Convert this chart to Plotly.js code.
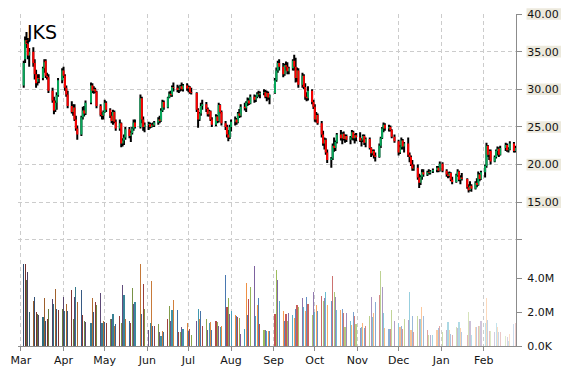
<!DOCTYPE html>
<html><head><meta charset="utf-8">
<script src="https://cdn.plot.ly/plotly-3.0.1.min.js"></script>
<style>html,body{margin:0;padding:0;background:#fff}#chart{width:570px;height:370px}</style>
</head><body><div id="chart"></div>
<script>
const ticker = 'JKS';
const firstDay = '2014-03-03';
const lastDay = '2015-02-24';
const holidays = ['2014-04-18','2014-05-26','2014-07-04','2014-09-01','2014-11-27','2014-12-25','2015-01-01','2015-01-19','2015-02-16'];

const open = [
30.5,34,36.5,36,34.5,35,33.5,32,31,31.5,31.5,32.8,33.8,31.8,31.6,29.8,28.5,27.3,28.2,29.2,31.2,
32.5,31.8,30.2,29.3,27.8,27,27.6,26,24.8,24,26.3,27.2,26.8,28.2,30.5,29.8,30,29.7,27.8,26.6,26.5,
27,28.2,27.3,26.5,25.8,27,25.7,24.8,25.5,22.8,23.2,23.6,24.7,23.8,24.2,24.8,25.6,25,28.8,26,25,
25.3,25.4,25,25.3,25.2,25.6,26,25.8,27.2,28.3,27.6,28.9,29.4,29.2,30.3,30.2,29.9,30.1,30.4,30,30.5,
30.1,30.3,29.6,29.5,27.3,26,26.8,27.8,28,27.4,26.7,27.1,26,25.3,26.4,25.8,27.9,27,25.5,25,24,23.6,
25,25.7,26,25.6,26.8,26.5,27.7,27.5,28.2,28.5,28.1,29,28.6,29,29.4,29.3,29.5,29.6,29,29.5,28.9,
29.5,31.2,32.5,33.5,33,32,33.2,33,32.4,32.8,33.8,33,31.5,32.5,30.6,31.8,30.3,29,28.8,29.8,28.3,
27.7,26,26.6,25.5,24,22.8,23.3,21.6,20.6,20.8,22.5,22.2,23,24,23.5,24.1,23.4,23.8,23.3,23.6,24.3,23.5,23.9,
23.6,23.2,23.3,23.8,22.9,23.4,22.2,21.5,21.8,21.2,21,22.5,23.5,24.8,25.3,24.8,25,24.6,23.7,
23.1,21.6,22.3,23.2,22.4,22.8,21.3,21,20,19.5,19.6,18.3,17.6,18.4,19,18.7,19,18.9,19.1,19.3,19.6,19.2,
20.1,19.2,18.7,18.5,18.9,18,17.7,18.6,19.1,18,18.3,18.1,17,16.6,17.2,16.8,17.6,17.3,18.7,18.1,
19,19.8,22.5,21.3,21.8,20.4,21,21.8,22.1,21.3,22.2,22.6,21.9,22,22.8,21.8
];
const high = [
33.8,37,37.6,36.8,35.5,35.6,34,32.6,32,32,33,34,34,32.2,32,30.2,29,28.5,29.6,31.5,32.8,
33,32,30.5,29.8,28.4,28,28,26.5,25.2,26.5,27.7,27.8,28.5,30.9,30.8,30.4,30.2,29.8,28,27,27.2,
28.6,28.4,27.5,27,27.3,27.2,26,26,25.6,23.5,24,25,25,24.5,25,26,26,29.3,29,26.4,25.6,
25.7,25.6,25.5,25.6,25.8,26.3,26.5,27.5,28.6,28.5,29,29.7,29.8,30.5,30.9,30.6,30.4,30.6,30.9,30.7,30.8,
30.5,30.4,30.2,29.6,27.5,27,28.2,28.6,28.3,27.6,27.3,27.2,26.3,26.7,26.6,28.2,28,27.2,25.8,25.3,24.6,25.3,
26,26.4,26.2,27,27.4,28,28.2,28.4,28.9,28.8,29.3,29.3,29.2,29.6,29.8,29.7,30,29.9,29.8,29.7,29.3,
31.5,32.9,33.8,34,33.5,33.4,33.7,33.6,33,34,34.6,34.2,32.9,32.8,32.2,32,30.8,29.6,30.4,30,28.6,
28,27,26.8,25.8,24.5,23.6,23.5,22,21,22.8,23.6,23.2,24.2,24.6,24.3,24.4,24,24,23.8,24.6,24.5,24.1,24.2,
24.3,23.5,24,24,23.6,23.6,22.3,22,22,21.6,22.8,23.7,25,25.6,25.5,25.3,25.2,24.7,24,
23.3,22.6,23.6,23.4,23,23.6,21.6,21.2,20.6,20,20,18.8,18.6,19.4,19.4,19.2,19.4,19.3,19.5,19.8,19.8,20.4,
20.3,19.4,19,19.1,19,18.4,18.8,19.4,19.2,18.6,18.9,18.2,17.4,17.8,17.4,17.8,18.2,19.1,18.9,19.2,
20,22.9,22.6,22,22,21.2,22,22.4,22.3,22.5,22.9,22.8,22.3,23.1,23,22.5
];
const low = [
30.2,33.5,35.5,34,33,33,31.3,30.2,30.5,30.8,31.2,32.2,31.5,31.3,29.5,28.2,26.7,27,27.3,29,30.8,
31.5,29.8,29,27.5,26.8,26.5,25.8,24.5,23.3,23.8,26,26.4,26.6,28,29.5,29.4,29.5,27.5,26.4,26,26,
26.9,27,26.2,25.5,25.3,25.5,24.5,24.5,22.3,22.4,22.6,23.3,23.5,23,24,24.5,24.8,24.8,25.5,24.5,24.3,
24.6,24.8,24.9,25,25,25.3,25.5,25.7,27,27.3,27.5,28.8,29,29,29.7,29.6,29.5,29.7,29.8,29.7,29.8,
29.6,29.4,29.3,27,24.9,25.8,26.5,27.3,27,26.4,26.4,25.8,25,25.1,25.5,25.6,26.8,25.2,24.6,23.6,23.1,23.4,
24.4,25.2,25.3,25.5,26.2,26.3,27.2,27,27.8,27.9,28,28.2,28.3,28.8,29,28.8,29.2,28.8,28.4,28.6,28,
29.4,31,32.2,32.5,31.6,31.8,32.5,32,32,32.5,32.5,30.9,31,30.2,30.2,30,28.6,28.4,28.5,28,27.4,
25.7,25.6,25.3,23.6,22.5,22,21.3,20.2,19.6,20.6,21.7,21.8,22.8,23.2,22.7,23.2,22.9,23,22.7,23.3,23.2,22.8,23.1,
23,22.4,23,22.6,22.3,22,21,21.2,20.8,20.4,20.9,22.2,23.4,24.3,24.5,24.4,24.4,23.5,22.9,
21.2,21.4,22,22,21.6,21,20.3,19.8,19.2,19.2,18,16.9,17.3,18,18.4,18.5,18.7,18.7,18.9,19,19,19.1,
19,18.4,18.2,18.3,17.8,17.4,17.6,18.4,17.8,17.4,17.9,16.8,16.3,16.5,16.4,16.7,17,17.2,17.8,18,
18.3,19.6,21,20.6,20,20.3,20.8,21.2,21,21.2,21.8,21.7,21.6,21.9,21.6,21.6
];
const close = [
33.5,36.5,36,34.5,35,33.5,32,30.8,31.5,31.4,32.8,33.6,31.8,31.6,29.8,28.5,27.2,28.2,29.2,31.2,32.5,
31.8,30.2,29.3,27.8,27,27.6,26,24.8,24,26.3,27.2,26.8,28.2,30.5,29.8,30,29.7,27.8,26.6,26.5,27,
28.2,27.3,26.5,25.8,27,25.7,24.8,25.5,22.8,23.2,23.6,24.7,23.8,24.2,24.8,25.6,25,28.8,26,25,25.3,
25.4,25,25.3,25.2,25.6,26,25.8,27.2,28.3,27.6,28.9,29.4,29.2,30.3,30.2,29.9,30.1,30.4,30,30.5,30.1,
30.3,29.6,29.5,27.3,26,26.8,27.8,28,27.4,26.7,27.1,26,25.3,26.4,25.8,27.9,27,25.5,25,24,23.6,25,
25.7,26,25.6,26.8,26.5,27.7,27.5,28.2,28.5,28.1,29,28.6,29,29.4,29.3,29.5,29.6,29,29.5,28.9,29.2,
31.2,32.5,33.5,33,32,33.2,33,32.4,32.8,33.8,33,31.5,32.5,30.6,31.8,30.3,29,28.8,29.8,28.3,27.7,
26,26.6,25.5,24,22.8,23.3,21.6,20.6,20.8,22.5,22.2,23,24,23.5,24.1,23.4,23.8,23.3,23.6,24.3,23.5,23.9,23.6,
23.2,23.3,23.8,22.9,23.4,22.2,21.5,21.8,21.2,21,22.5,23.5,24.8,25.3,24.8,25,24.6,23.7,23.1,
21.6,22.3,23.2,22.4,22.8,21.3,21,20,19.5,19.6,18.3,17.6,18.4,19,18.7,19,18.9,19.1,19.3,19.6,19.2,20.1,
19.2,18.7,18.5,18.9,18,17.7,18.6,19.1,18,18.3,18.1,17,16.6,17.2,16.8,17.6,17.3,18.7,18.1,19,
19.8,22.5,21.3,21.8,20.4,21,21.8,22.1,21.3,22.2,22.6,21.9,22,22.8,21.8,22.2
];
// volume in millions of shares
const volume = [
4.8,4.8,3.9,4.35,2.0,2.65,2.9,2.0,1.9,1.8,1.7,2.85,1.5,1.6,2.2,2.75,2.5,3.35,2.2,2.1,2.2,
2.9,2.05,2.5,2.05,3.3,1.6,2.9,3.5,2.6,3.3,1.8,1.5,1.4,1.35,2.8,2.0,2.6,2.4,3.1,1.35,1.45,
1.4,1.35,1.6,1.6,1.9,1.2,1.3,1.75,1.35,3.6,3.0,1.6,1.5,1.35,3.4,2.5,2.6,4.8,1.9,3.65,2.2,
0.95,1.35,3.8,1.2,1.2,1.3,0.8,0.6,0.9,0.8,1.6,2.35,1.5,2.1,2.7,2.1,0.8,0.8,1.1,1.0,1.35,
0.9,1.0,0.65,1.5,2.2,1.6,2.05,1.2,
1.6,0.95,1.35,1.4,0.95,1.5,1.4,1.2,1.1,1.2,4.2,2.3,2.8,1.9,2.05,1.8,1.75,1.7,1.65,0.7,
1.0,3.7,1.8,2.75,3.5,4.7,1.75,2.4,2.8,1.3,0.95,0.95,0.9,0.9,0.9,1.9,4.5,3.9,2.65,2.05,
1.5,1.9,1.5,1.95,1.8,1.65,2.2,2.4,2.3,2.8,2.3,2.05,2.9,2.5,1.8,3.2,2.0,2.4,2.05,2.95,
2.65,2.8,3.2,2.4,2.65,4.1,3.2,2.9,2.1,2.1,2.2,1.95,1.1,1.95,1.5,1.25,2.0,1.75,1.3,1.05,
1.1,1.35,1.05,1.2,1.75,2.9,
1.7,1.95,2.6,3.0,4.4,3.5,1.95,1.05,1.0,1.0,2.1,1.45,1.35,1.1,1.2,1.0,1.6,1.55,3.2,0.95,
1.75,0.8,1.75,1.6,1.6,2.3,1.75,0.95,0.65,0.65,0.65,0.95,1.05,1.2,0.8,0.95,1.4,0.95,0.7,0.65,
1.1,1.05,1.4,1.05,0.8,0.65,2.0,1.5,0.65,1.1,1.1,1.2,1.2,1.5,1.35,2.8,1.55,0.9,0.9,0.85,
1.35,1.1,0.85,0.8,0.6,0.55,0.3,0.7,1.3,1.35
];

const monthTicks = ['2014-03-01','2014-04-01','2014-05-01','2014-06-01','2014-07-01','2014-08-01','2014-09-01','2014-10-01','2014-11-01','2014-12-01','2015-01-01','2015-02-01'];
const monthLabels = ['Mar','Apr','May','Jun','Jul','Aug','Sep','Oct','Nov','Dec','Jan','Feb'];
const priceTicks = [10,15,20,25,30,35,40];
const priceLabels = ['','15.00','20.00','25.00','30.00','35.00','40.00'];
const volTicks = [0,2,4];
const volLabels = ['0.0K','2.0M','4.0M'];

// trading calendar (weekdays without exchange holidays)
function tradingDays(a, b, skip) {
  const out = [];
  const d = new Date(a + 'T00:00:00Z'), e = new Date(b + 'T00:00:00Z');
  while (d <= e) {
    const s = d.toISOString().slice(0, 10), w = d.getUTCDay();
    if (w !== 0 && w !== 6 && skip.indexOf(s) < 0) out.push(s);
    d.setUTCDate(d.getUTCDate() + 1);
  }
  return out;
}
const dates = tradingDays(firstDay, lastDay, holidays);
const n = Math.min(dates.length, close.length);

const wx = [], wy = [], ux = [], uy = [], dx = [], dy = [];
for (let i = 0; i < n; i++) {
  wx.push(dates[i], dates[i], null); wy.push(low[i], high[i], null);
  if (close[i] >= open[i]) { ux.push(dates[i], dates[i], null); uy.push(open[i], close[i], null); }
  else { dx.push(dates[i], dates[i], null); dy.push(open[i], close[i], null); }
}

const palette = [[79,129,189],[192,80,77],[155,187,89],[128,100,162],[75,172,198],[247,150,70]];
const volColors = [];
for (let i = 0; i < n; i++) {
  const t = i / (n - 1), s = 2 * t - 1, c = palette[i % palette.length];
  let r, g, b;
  if (s < 0) { const k = 1 + s * 0.4; r = c[0] * k; g = c[1] * k; b = c[2] * k; }
  else { const k = s * 0.72; r = c[0] + (255 - c[0]) * k; g = c[1] + (255 - c[1]) * k; b = c[2] + (255 - c[2]) * k; }
  volColors.push('rgb(' + Math.round(r) + ',' + Math.round(g) + ',' + Math.round(b) + ')');
}

const traces = [
  {type:'bar', x:dates.slice(0,n), y:volume.slice(0,n), xaxis:'x', yaxis:'y2',
   marker:{color:volColors, line:{width:0}}, width:0.8*86400000, hoverinfo:'skip'},
  {type:'scatter', mode:'lines', x:wx, y:wy, xaxis:'x', yaxis:'y', line:{color:'#000', width:2}, connectgaps:false, hoverinfo:'skip'},
  {type:'scatter', mode:'lines', x:ux, y:uy, xaxis:'x', yaxis:'y', line:{color:'#07a85a', width:2}, connectgaps:false, hoverinfo:'skip'},
  {type:'scatter', mode:'lines', x:dx, y:dy, xaxis:'x', yaxis:'y', line:{color:'#ff0000', width:2}, connectgaps:false, hoverinfo:'skip'}
];

const L = 18, R = 516, W = 570, T = 14, B = 346;
const priceDomain = [0.3, 1], priceRange = [9.14, 40];
const tickFont = {family:'DejaVu Sans', size:11, color:'#141414'};
// beige label plates behind the price tick labels, placed in paper coordinates
const shapes = [];
const half = 5.8 / (B - T);
priceTicks.forEach((v, i) => {
  if (!priceLabels[i]) return;
  const yp = priceDomain[0] + (priceDomain[1] - priceDomain[0]) * (v - priceRange[0]) / (priceRange[1] - priceRange[0]);
  shapes.push({type:'rect', layer:'below', xref:'paper', yref:'paper',
    x0:(526.5 - L) / (R - L), x1:(561 - L) / (R - L), y0:yp - half, y1:yp + half,
    fillcolor:'#ECE9DC', line:{width:0}});
});

const layout = {
  width:570, height:370,
  margin:{l:L, r:W - R, t:T, b:370 - B, pad:0},
  paper_bgcolor:'#ffffff', plot_bgcolor:'#ffffff',
  showlegend:false,
  title:{text:ticker, xref:'container', yref:'container', x:27/570, xanchor:'left', y:1 - 32/370, yanchor:'middle',
         font:{family:'DejaVu Sans', size:19, color:'#000'}},
  xaxis:{type:'date', range:['2014-02-26 20:00','2015-02-24 12:00'], anchor:'y2',
         tickmode:'array', tickvals:monthTicks, ticktext:monthLabels,
         showgrid:true, gridcolor:'#cccccc', griddash:'4px,3px', gridwidth:1,
         ticks:'outside', ticklen:4, tickcolor:'#8c8c8c', showline:true, linecolor:'#8c8c8c', linewidth:1,
         tickfont:tickFont, zeroline:false, fixedrange:true},
  yaxis:{domain:priceDomain, range:priceRange, side:'right', anchor:'x',
         tickmode:'array', tickvals:priceTicks, ticktext:priceLabels,
         showgrid:true, gridcolor:'#cccccc', griddash:'4px,3px', gridwidth:1,
         ticks:'outside', ticklen:5, tickcolor:'#8c8c8c', showline:true, linecolor:'#8c8c8c', linewidth:1,
         tickfont:tickFont, ticklabelstandoff:3, zeroline:false, fixedrange:true},
  yaxis2:{domain:[0,0.3], range:[0,5.86], side:'right', anchor:'x',
         tickmode:'array', tickvals:volTicks, ticktext:volLabels, showgrid:false,
         ticks:'outside', ticklen:5, tickcolor:'#8c8c8c', showline:true, linecolor:'#8c8c8c', linewidth:1,
         tickfont:tickFont, ticklabelstandoff:3, zeroline:false, fixedrange:true},
  barmode:'overlay', bargap:0,
  shapes:shapes
};

Plotly.newPlot('chart', traces, layout, {staticPlot:true, displayModeBar:false});
</script>
</body></html>
